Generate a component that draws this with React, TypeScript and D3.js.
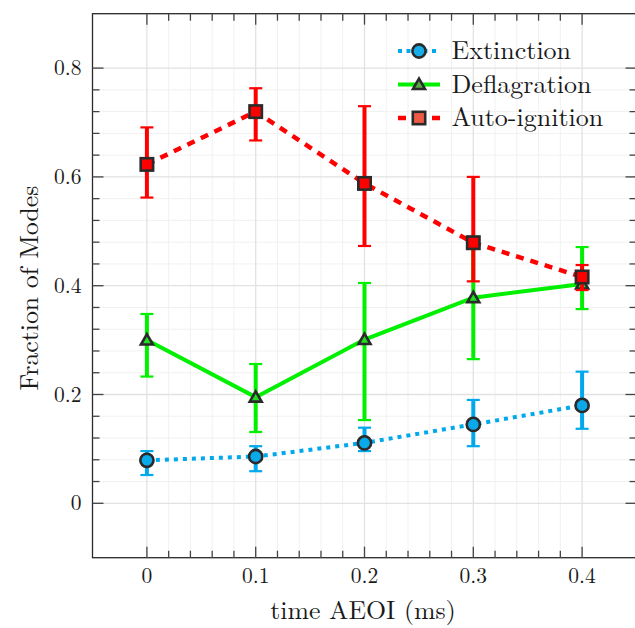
import React from "react";
import * as d3 from "d3";

// Sampling times after end of injection (ms)
const times = [0, 0.1, 0.2, 0.3, 0.4];

// Fraction of each combustion mode, with lower / upper error bounds
const extinction = [0.079, 0.086, 0.111, 0.145, 0.18];
const extinctionLow = [0.052, 0.059, 0.096, 0.105, 0.137];
const extinctionHigh = [0.096, 0.105, 0.139, 0.19, 0.242];

const deflagration = [0.3, 0.195, 0.301, 0.378, 0.403];
const deflagrationLow = [0.233, 0.131, 0.153, 0.265, 0.357];
const deflagrationHigh = [0.348, 0.256, 0.405, 0.49, 0.471];

const autoIgnition = [0.623, 0.72, 0.588, 0.479, 0.416];
const autoIgnitionLow = [0.562, 0.667, 0.473, 0.408, 0.392];
const autoIgnitionHigh = [0.691, 0.763, 0.73, 0.6, 0.438];

const xTicks = [0, 0.1, 0.2, 0.3, 0.4];
const xTickLabels = ["0", "0.1", "0.2", "0.3", "0.4"];
const yTicks = [0, 0.2, 0.4, 0.6, 0.8];
const yTickLabels = ["0", "0.2", "0.4", "0.6", "0.8"];

const W = 635;
const H = 628;
const plot = { left: 92.5, top: 13.7, size: 544 };

const x = d3.scaleLinear().domain([-0.05, 0.45]).range([plot.left, plot.left + plot.size]);
const y = d3.scaleLinear().domain([-0.1, 0.9]).range([plot.top + plot.size, plot.top]);

const minorX = d3.range(0, 0.4001, 0.02).filter((v) => !xTicks.some((t) => Math.abs(t - v) < 1e-6));
const minorY = d3.range(0, 0.8001, 0.04).filter((v) => !yTicks.some((t) => Math.abs(t - v) < 1e-6));

const serifStyle = { fontFamily: '"Latin Modern Roman"' };
const ink = "#2a2a2a";
const textInk = "#1a1a1a";

type Series = {
  name: string;
  values: number[];
  low: number[];
  high: number[];
  color: string;
  legendFill: string;
  markerFill: string;
  dash: string;
  width: number;
  marker: "circle" | "triangle" | "square";
};

const series: Series[] = [
  {
    name: "Extinction",
    values: extinction,
    low: extinctionLow,
    high: extinctionHigh,
    color: "#00a8ec",
    legendFill: "#16ade8",
    markerFill: "#0aa9ea",
    dash: "4,5",
    width: 4,
    marker: "circle",
  },
  {
    name: "Deflagration",
    values: deflagration,
    low: deflagrationLow,
    high: deflagrationHigh,
    color: "#00f000",
    legendFill: "#55aa44",
    markerFill: "#22dd22",
    dash: "none",
    width: 4,
    marker: "triangle",
  },
  {
    name: "Auto-ignition",
    values: autoIgnition,
    low: autoIgnitionLow,
    high: autoIgnitionHigh,
    color: "#ff0000",
    legendFill: "#ee5a44",
    markerFill: "#ff0000",
    dash: "8,7",
    width: 4.5,
    marker: "square",
  },
];

function Marker({ kind, cx, cy, fill }: { kind: Series["marker"]; cx: number; cy: number; fill: string }) {
  const sw = 2.6;
  if (kind === "circle") {
    return <circle cx={cx} cy={cy} r={6.6} fill={fill} stroke={ink} strokeWidth={sw} />;
  }
  if (kind === "square") {
    const s = 12.4;
    return <rect x={cx - s / 2} y={cy - s / 2} width={s} height={s} fill={fill} stroke={ink} strokeWidth={sw} />;
  }
  const sym = d3.symbol().type(d3.symbolTriangle).size(62)();
  return <path d={sym || ""} transform={`translate(${cx},${cy + 1})`} fill={fill} stroke={ink} strokeWidth={sw} strokeLinejoin="miter" />;
}

export default function App() {
  const line = d3
    .line<number>()
    .x((_, i) => x(times[i]))
    .y((v) => y(v));

  const bottom = plot.top + plot.size;
  const right = plot.left + plot.size;

  const legendRows = [51, 84.5, 118];

  return (
    <svg
      width={W}
      height={H}
      viewBox={`0 0 ${W} ${H}`}
      style={{ position: "absolute", left: 0, top: 0, overflow: "hidden", background: "#fff" }}
    >
      <rect x={0} y={0} width={W} height={H} fill="#fff" />

      {/* minor grid */}
      <g stroke="#f1f1f1" strokeWidth={1}>
        {minorX.map((v) => (
          <line key={`mgx${v}`} x1={x(v)} x2={x(v)} y1={plot.top} y2={bottom} />
        ))}
        {minorY.map((v) => (
          <line key={`mgy${v}`} x1={plot.left} x2={right} y1={y(v)} y2={y(v)} />
        ))}
      </g>
      {/* major grid */}
      <g stroke="#e2e2e2" strokeWidth={1.3}>
        {xTicks.map((v) => (
          <line key={`gx${v}`} x1={x(v)} x2={x(v)} y1={plot.top} y2={bottom} />
        ))}
        {yTicks.map((v) => (
          <line key={`gy${v}`} x1={plot.left} x2={right} y1={y(v)} y2={y(v)} />
        ))}
      </g>

      {/* series: error bars, connecting line, markers */}
      {series.map((s) => (
        <g key={s.name}>
          {s.values.map((_, i) => {
            const cx = x(times[i]);
            const y1 = y(s.low[i]);
            const y2 = y(s.high[i]);
            return (
              <g key={i}>
                <line x1={cx} x2={cx} y1={y1} y2={y2} stroke={s.color} strokeWidth={4} />
                <line x1={cx - 6.5} x2={cx + 6.5} y1={y1} y2={y1} stroke={s.color} strokeWidth={2.2} />
                <line x1={cx - 6.5} x2={cx + 6.5} y1={y2} y2={y2} stroke={s.color} strokeWidth={2.2} />
              </g>
            );
          })}
          <path
            d={line(s.values) || ""}
            fill="none"
            stroke={s.color}
            strokeWidth={s.width}
            strokeDasharray={s.dash}
          />
          {s.values.map((v, i) => (
            <Marker key={i} kind={s.marker} cx={x(times[i])} cy={y(v)} fill={s.markerFill} />
          ))}
        </g>
      ))}

      {/* frame */}
      <rect x={plot.left} y={plot.top} width={plot.size} height={plot.size} fill="none" stroke={ink} strokeWidth={1.3} />

      {/* ticks on all four sides, pointing inward */}
      <g stroke="#444" strokeWidth={1.3}>
        {xTicks.map((v) => (
          <g key={`tx${v}`}>
            <line x1={x(v)} x2={x(v)} y1={bottom} y2={bottom - 11} />
            <line x1={x(v)} x2={x(v)} y1={plot.top} y2={plot.top + 11} />
          </g>
        ))}
        {minorX.map((v) => (
          <g key={`mtx${v}`}>
            <line x1={x(v)} x2={x(v)} y1={bottom} y2={bottom - 7} />
            <line x1={x(v)} x2={x(v)} y1={plot.top} y2={plot.top + 7} />
          </g>
        ))}
        {yTicks.map((v) => (
          <g key={`ty${v}`}>
            <line x1={plot.left} x2={plot.left + 11} y1={y(v)} y2={y(v)} />
            <line x1={right} x2={right - 11} y1={y(v)} y2={y(v)} />
          </g>
        ))}
        {minorY.map((v) => (
          <g key={`mty${v}`}>
            <line x1={plot.left} x2={plot.left + 7} y1={y(v)} y2={y(v)} />
            <line x1={right} x2={right - 7} y1={y(v)} y2={y(v)} />
          </g>
        ))}
      </g>

      {/* tick labels */}
      {xTicks.map((v, i) => (
        <text key={`lx${v}`} x={x(v)} y={583} textAnchor="middle" style={serifStyle} fontSize={21.5} fill={textInk}>
          {xTickLabels[i]}
        </text>
      ))}
      {yTicks.map((v, i) => (
        <text key={`ly${v}`} x={81.5} y={y(v) + 7} textAnchor="end" style={serifStyle} fontSize={21.5} fill={textInk}>
          {yTickLabels[i]}
        </text>
      ))}

      {/* axis titles */}
      <text x={363} y={619} textAnchor="middle" style={serifStyle} fontSize={25.8} fill={textInk}>
        time AEOI (ms)
      </text>
      <text
        transform="translate(38,288) rotate(-90)"
        textAnchor="middle"
        style={serifStyle}
        fontSize={25.8}
        fill={textInk}
      >
        Fraction of Modes
      </text>

      {/* legend */}
      {series.map((s, i) => {
        const cy = legendRows[i];
        return (
          <g key={`lg${s.name}`}>
            <line
              x1={398}
              x2={440}
              y1={cy}
              y2={cy}
              stroke={s.color}
              strokeWidth={s.width}
              strokeDasharray={s.marker === "circle" ? "4,4.5" : s.marker === "square" ? "8,26" : "none"}
            />
            <Marker kind={s.marker} cx={419} cy={cy} fill={s.legendFill} />
            <text x={451.5} y={cy + 8} style={serifStyle} fontSize={26} fill={textInk}>
              {s.name}
            </text>
          </g>
        );
      })}
    </svg>
  );
}
